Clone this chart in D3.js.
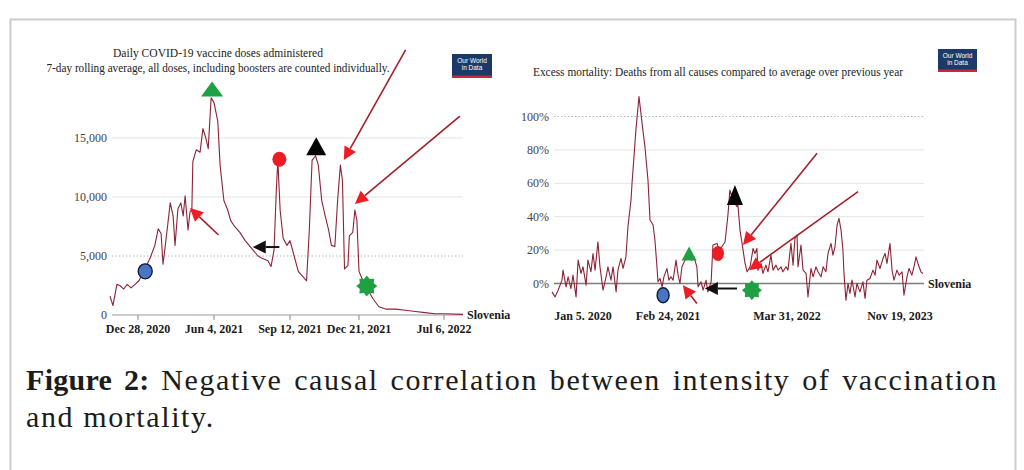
<!DOCTYPE html>
<html>
<head>
<meta charset="utf-8">
<script src="https://cdn.jsdelivr.net/npm/d3@7"></script>
<style>
  body { margin: 0; background: #fff; }
  svg { display: block; font-family: "Liberation Serif", "Times New Roman", serif; }
</style>
</head>
<body>
<svg id="fig" width="1024" height="470"></svg>
<script>
// ---- data: left panel (daily vaccine doses, day 0 = Dec 28, 2020) ----
const doseTicks = [0, 158, 258, 358, 555];
const doseTickLabels = ['Dec 28, 2020', 'Jun 4, 2021', 'Sep 12, 2021', 'Dec 21, 2021', 'Jul 6, 2022'];
const doseYTicks = [0, 5000, 10000, 15000];
const dosesSeries = [
  [-57, 1600], [-51, 800], [-43, 2600], [-37, 2500], [-29, 2200], [-22, 2600], [-14, 2300], [-6, 2600],
  [2, 2900], [12, 3700], [25, 4800], [35, 5900], [42, 7300], [48, 6900], [52, 4300], [58, 6300],
  [67, 9500], [73, 8400], [77, 5900], [83, 9000], [89, 9500], [94, 8400], [98, 10100], [104, 7200],
  [108, 8700], [112, 9000], [114, 13000], [121, 14000], [129, 13800], [135, 15800], [141, 15000],
  [146, 14100], [152, 18400], [158, 18000], [163, 16400], [166, 12700], [171, 9700], [176, 8900],
  [180, 8000], [184, 7600], [192, 7000], [199, 6300], [208, 5600], [216, 5000], [221, 4800],
  [229, 4600], [233, 4100], [237, 5500], [240, 10600], [242, 13100], [245, 8900], [249, 6500],
  [254, 5900], [258, 6300], [264, 5000], [270, 3700], [276, 3300], [282, 2900], [286, 7200],
  [290, 13100], [295, 13500], [299, 12700], [304, 9700], [309, 8400], [314, 7200], [318, 5900],
  [323, 5800], [327, 9700], [331, 12700], [334, 11400], [337, 3900], [342, 4200], [344, 6700],
  [349, 7000], [352, 8900], [355, 8000], [358, 3700], [367, 2900], [376, 2300], [390, 1400],
  [404, 700], [420, 500], [443, 500], [466, 400], [489, 300], [511, 200], [534, 100], [555, 100], [598, 50]
];
const doseMarkers = [
  { kind: 'blueDot', day: 15, value: 3700 },
  { kind: 'greenUp', day: 154, value: 19150 },
  { kind: 'redDot', day: 244, value: 13200 },
  { kind: 'blackUp', day: 296, value: 14300 },
  { kind: 'greenStar', day: 376, value: 2450 }
];
const doseArrows = [
  { kind: 'red', from: [164, 6780], to: [108, 9070] },
  { kind: 'black', from: [244, 5760], to: [209, 5760] },
  { kind: 'red', from: [466, 22460], to: [336, 13130] },
  { kind: 'red', from: [591, 16860], to: [352, 9410] }
];

// ---- data: right panel (excess mortality %, day 0 = Jan 5, 2020) ----
const excessTicks = [0, 416, 816, 1414];
const excessTickLabels = ['Jan 5. 2020', 'Feb 24, 2021', 'Mar 31, 2022', 'Nov 19, 2023'];
const excessYTicks = [0, 20, 40, 60, 80, 100];
const excessSeries = [
  [-152, -5], [-137, -8], [-122, -4], [-103, 2], [-98, 8], [-83, -2], [-73, 4], [-59, -3], [-49, 5],
  [-34, -8], [-24, 14], [-10, 6], [0, 10], [15, -1], [24, 14], [39, 7], [49, 18], [59, 8], [73, 25],
  [83, 10], [98, -4], [113, 4], [122, 10], [137, 2], [147, 10], [162, -5], [171, 8], [186, 15],
  [196, 9], [210, 16], [220, 34], [235, 50], [240, 60], [259, 92], [274, 112], [289, 96], [303, 82],
  [318, 62], [328, 38], [343, 35], [352, 26], [362, 10], [367, 1], [377, 3], [387, -2], [396, 4],
  [411, 9], [419, 2], [426, 4], [433, 2], [443, 14], [450, 5], [456, 0], [463, 10], [473, 14],
  [483, 15], [497, 14], [503, 16], [513, 10], [517, -2], [527, 1], [534, -4], [544, 2], [550, -5],
  [561, 1], [567, 23], [581, 24], [587, 20], [597, 22], [608, 25], [618, 42], [624, 56], [634, 50],
  [648, 46], [651, 47], [658, 32], [665, 24], [675, 12], [682, 7], [692, 10], [702, 21], [708, 18],
  [715, 21], [718, 8], [729, 12], [735, 6], [745, 11], [752, 7], [762, 17], [769, 8], [779, 11],
  [786, 8], [796, 10], [802, 7], [813, 10], [821, 8], [837, 24], [848, 11], [858, 27], [869, 29],
  [874, 10], [890, 23], [901, 8], [917, 6], [927, -8], [943, 9], [954, 4], [969, 10], [980, 7],
  [996, 4], [1007, 10], [1022, 7], [1033, 18], [1049, 24], [1059, 17], [1070, 22], [1081, 35],
  [1091, 39], [1102, 32], [1112, 20], [1118, 5], [1128, -10], [1139, 0], [1149, -6], [1160, 2],
  [1176, -8], [1186, 0], [1202, -5], [1218, 1], [1229, -9], [1239, 2], [1255, 3], [1271, 8],
  [1282, 5], [1292, 14], [1308, 9], [1324, 15], [1335, 18], [1345, 12], [1361, 24], [1372, 8],
  [1382, 2], [1398, 8], [1409, 5], [1425, 7], [1435, -7], [1451, 4], [1462, 9], [1477, 5],
  [1488, 10], [1499, 16], [1509, 12], [1525, 7], [1536, 6]
];
const excessMarkers = [
  { kind: 'blueDot', day: 392, value: -7 },
  { kind: 'greenUp', day: 487, value: 18 },
  { kind: 'redDot', day: 584, value: 18 },
  { kind: 'blackUp', day: 641, value: 53 },
  { kind: 'greenStar', day: 698, value: -4 }
];
const excessArrows = [
  { kind: 'red', from: [513, -12], to: [466, -1] },
  { kind: 'black', from: [648, -3], to: [540, -3] },
  { kind: 'red', from: [975, 78], to: [668, 23] },
  { kind: 'red', from: [1192, 55], to: [688, 8] }
];

const captionLine1 = ['Figure', '2:', 'Negative', 'causal', 'correlation', 'between', 'intensity', 'of', 'vaccination'];
const captionLine2 = 'and mortality.';

// ---- drawing ----
const svg = d3.select('#fig');
const LINE = '#8b2336';

svg.append('rect').attr('width', 1024).attr('height', 470).attr('fill', '#fff');
svg.append('rect')
    .attr('x', 10.5).attr('y', 19.5).attr('width', 1005).attr('height', 480)
    .attr('fill', 'none').attr('stroke', '#cdcdcd').attr('stroke-width', 2);

function star(r1, r2, n) {
  const pts = d3.range(n * 2).map(i => [i * Math.PI / n, i % 2 ? r2 : r1]);
  return d3.lineRadial().curve(d3.curveLinearClosed)(pts);
}

function tri(w, h) {
  return `M0,${-h / 2}L${w / 2},${h / 2}L${-w / 2},${h / 2}Z`;
}

function drawMarker(g, kind, x, y, s) {
  const m = g.append('g').attr('transform', `translate(${x},${y})`);
  if (kind === 'blueDot') {
    m.append('ellipse').attr('rx', s.dotRx).attr('ry', s.dotRy)
        .attr('fill', '#4a74c4').attr('stroke', '#111a33').attr('stroke-width', 1.4);
  } else if (kind === 'redDot') {
    m.append('ellipse').attr('rx', s.dotRx).attr('ry', s.dotRy).attr('fill', '#ec1c24');
  } else if (kind === 'greenUp') {
    m.append('path').attr('d', tri(s.gw, s.gh)).attr('fill', '#1fa043');
  } else if (kind === 'blackUp') {
    m.append('path').attr('d', tri(s.bw, s.bh)).attr('fill', '#050505');
  } else if (kind === 'greenStar') {
    m.append('path').attr('d', star(s.star, s.star * 0.72, 8)).attr('fill', '#1fa043');
  }
}

function drawArrow(g, kind, x1, y1, x2, y2) {
  const shaft = kind === 'red' ? '#a3202c' : '#111';
  const head = kind === 'red' ? '#ee1c24' : '#111';
  const len = 13, half = 6.5;
  const a = Math.atan2(y2 - y1, x2 - x1);
  const bx = x2 - len * Math.cos(a), by = y2 - len * Math.sin(a);
  g.append('line')
      .attr('x1', x1).attr('y1', y1).attr('x2', bx).attr('y2', by)
      .attr('stroke', shaft).attr('stroke-width', kind === 'red' ? 1.6 : 2);
  const px = half * Math.sin(a), py = -half * Math.cos(a);
  g.append('path')
      .attr('d', `M${x2},${y2}L${bx + px},${by + py}L${bx - px},${by - py}Z`)
      .attr('fill', head);
}

function owidLogo(x, y, w, h) {
  const g = svg.append('g').attr('transform', `translate(${x},${y})`);
  g.append('rect').attr('width', w).attr('height', h).attr('fill', '#1b3a69');
  g.append('rect').attr('y', h - 2.5).attr('width', w).attr('height', 2.5).attr('fill', '#c8283a');
  g.append('text').attr('x', w / 2).attr('y', h * 0.38).attr('text-anchor', 'middle')
      .attr('fill', '#fff').style('font', '6.5px "Liberation Sans", Arial, sans-serif').text('Our World');
  g.append('text').attr('x', w / 2).attr('y', h * 0.68).attr('text-anchor', 'middle')
      .attr('fill', '#fff').style('font', '6.5px "Liberation Sans", Arial, sans-serif').text('in Data');
}

function panel(cfg) {
  const g = svg.append('g');
  const { x, y } = cfg;
  const x0 = x.range()[0];

  // grid
  cfg.yTicks.forEach(t => {
    if (t === 0) return;
    g.append('line')
        .attr('x1', x0 + 2).attr('x2', cfg.gridEnd).attr('y1', y(t)).attr('y2', y(t))
        .attr('stroke', cfg.dotted.includes(t) ? '#b5b5b5' : '#e3e3e3')
        .attr('stroke-dasharray', cfg.dotted.includes(t) ? '1.5,2' : null);
  });
  g.append('line')
      .attr('x1', x0 + 2).attr('x2', cfg.gridEnd).attr('y1', y(0)).attr('y2', y(0))
      .attr('stroke', cfg.zeroColor).attr('stroke-width', cfg.zeroWidth);

  // y labels
  g.selectAll('.yl').data(cfg.yTicks).join('text')
      .attr('x', x0 - 3).attr('y', d => y(d) + 4)
      .attr('text-anchor', 'end').attr('fill', '#444').style('font-size', '12px')
      .text(cfg.yFormat);

  // x ticks + labels
  if (cfg.tickMarks) {
    g.selectAll('.xt').data(cfg.xTicks).join('line')
        .attr('x1', d => x(d)).attr('x2', d => x(d))
        .attr('y1', y(0)).attr('y2', y(0) + 5).attr('stroke', '#888');
  }
  g.selectAll('.xl').data(cfg.xTicks).join('text')
      .attr('x', d => x(d)).attr('y', cfg.xLabelY)
      .attr('text-anchor', 'middle').attr('fill', '#1a1a1a')
      .style('font-size', '12px').style('font-weight', 'bold')
      .text((d, i) => cfg.xLabels[i]);

  // series
  g.append('path').datum(cfg.series)
      .attr('fill', 'none').attr('stroke', LINE).attr('stroke-width', 1.1)
      .attr('stroke-linejoin', 'round')
      .attr('d', d3.line().x(d => x(d[0])).y(d => y(d[1])));

  g.append('text')
      .attr('x', cfg.gridEnd + 4).attr('y', y(0) + 4)
      .attr('fill', '#1a1a1a').style('font-size', '12px').style('font-weight', 'bold')
      .text('Slovenia');

  // titles
  cfg.titles.forEach(t => {
    g.append('text').attr('x', t.cx).attr('y', t.y).attr('text-anchor', 'middle')
        .attr('fill', '#222').style('font-size', t.size + 'px')
        .attr('textLength', t.w).attr('lengthAdjust', 'spacingAndGlyphs')
        .text(t.text);
  });

  cfg.arrows.forEach(a => drawArrow(g, a.kind, x(a.from[0]), y(a.from[1]), x(a.to[0]), y(a.to[1])));
  cfg.markers.forEach(m => drawMarker(g, m.kind, x(m.day), y(m.value), cfg.sizes));
}

// left: day axis is piecewise (the source image is not linear in time)
const xDose = d3.scaleLinear()
    .domain([-57, 0, 158, 258, 358, 555, 598])
    .range([110, 138, 214, 290, 359, 444, 463]);
const yDose = d3.scaleLinear().domain([0, 15000]).range([315, 138]);

panel({
  x: xDose, y: yDose, gridEnd: 463,
  yTicks: doseYTicks, dotted: [5000], yFormat: d3.format(','),
  zeroColor: '#9a9a9a', zeroWidth: 1.2,
  xTicks: doseTicks, xLabels: doseTickLabels, xLabelY: 333, tickMarks: true,
  series: dosesSeries, markers: doseMarkers, arrows: doseArrows,
  titles: [
    { text: 'Daily COVID-19 vaccine doses administered', cx: 218, y: 57, w: 210, size: 12 },
    { text: '7-day rolling average, all doses, including boosters are counted individually.', cx: 218, y: 72, w: 343, size: 12 }
  ],
  sizes: { dotRx: 7, dotRy: 7.5, gw: 22, gh: 15, bw: 20, bh: 18, star: 10.5 }
});
owidLogo(452, 54, 40, 24);

const xEx = d3.scaleLinear()
    .domain([-152, 0, 416, 816, 1414, 1536])
    .range([552, 583, 668, 787, 900, 923]);
const yEx = d3.scaleLinear().domain([0, 100]).range([283.5, 116.5]);

panel({
  x: xEx, y: yEx, gridEnd: 924,
  yTicks: excessYTicks, dotted: [100], yFormat: d => d + '%',
  zeroColor: '#7d7d7d', zeroWidth: 1.6,
  xTicks: excessTicks, xLabels: excessTickLabels, xLabelY: 320, tickMarks: false,
  series: excessSeries, markers: excessMarkers, arrows: excessArrows,
  titles: [
    { text: 'Excess mortality: Deaths from all causes compared to average over previous year', cx: 718, y: 76, w: 370, size: 12 }
  ],
  sizes: { dotRx: 6, dotRy: 7.5, gw: 15, gh: 14, bw: 16, bh: 20, star: 10 }
});
owidLogo(938, 49, 39, 23);

// caption, first line justified
const cap = svg.append('g').attr('fill', '#1c1c1c').style('font-size', '30px');
const words = captionLine1.map((w, i) => cap.append('text').attr('y', 390)
    .style('font-weight', i < 2 ? 'bold' : 'normal')
    .style('letter-spacing', i < 2 ? '0.3px' : '1.6px')
    .text(w));
const widths = words.map(t => t.node().getComputedTextLength());
const gap = (998 - 26 - d3.sum(widths)) / (words.length - 1);
let cx = 26;
words.forEach((t, i) => { t.attr('x', cx); cx += widths[i] + gap; });
cap.append('text').attr('x', 26).attr('y', 427).style('letter-spacing', '1.6px').text(captionLine2);
</script>
</body>
</html>
